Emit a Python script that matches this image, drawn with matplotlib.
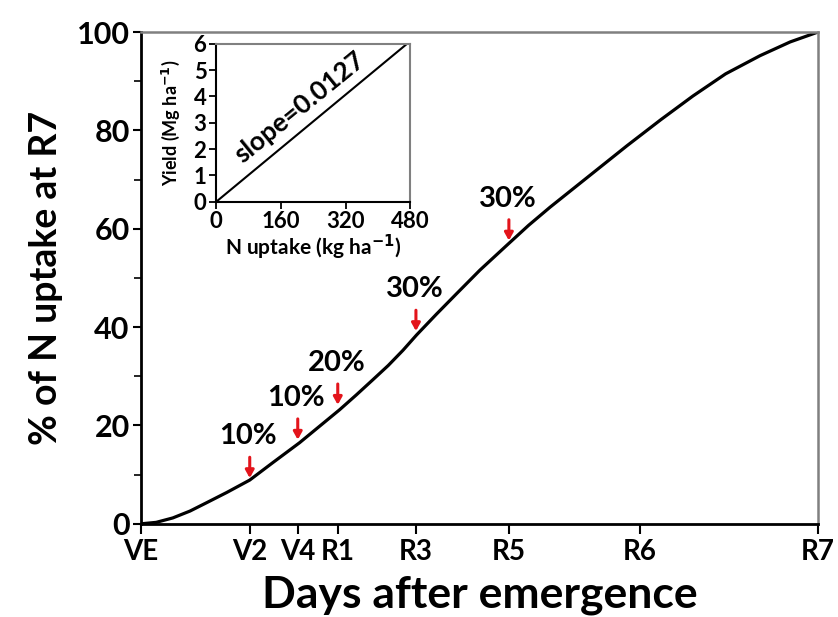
import numpy as np
import matplotlib
matplotlib.use("Agg")
import matplotlib.pyplot as plt

plt.rcParams['font.family'] = ['Lato', 'DejaVu Sans']
plt.rcParams['font.weight'] = 'bold'

# stades de croissance (jours apres emergence)
stage_labels = ["VE", "V2", "V4", "R1", "R3", "R5", "R6", "R7"]
stage_days = [0, 17.7, 25.5, 32.0, 44.7, 59.8, 81.1, 110]

# courbe d'absorption de N (% de R7)
curve_days = [0, 2.5, 5.2, 8.0, 10.7, 14.0, 17.7, 21.4, 25.8, 29.0, 32.3,
              35.0, 37.7, 40.2, 42.6, 44.8, 48.0, 51.3, 55.1, 59.6, 63.0,
              66.5, 70.0, 74.0, 79.0, 84.5, 89.7, 95.0, 100.6, 105.5, 110]
curve_pct = [0, 0.3, 1.2, 2.6, 4.3, 6.4, 8.9, 12.4, 16.5, 19.8, 23.2,
             26.2, 29.3, 32.2, 35.3, 38.4, 42.6, 46.8, 51.6, 56.8, 60.7,
             64.4, 67.9, 71.9, 76.9, 82.2, 87.0, 91.5, 95.2, 98.0, 100]

# fleches et pourcentages
arrow_days = [17.7, 25.5, 32.0, 44.7, 59.8]
arrow_pct = [9.3, 17.1, 24.2, 39.2, 57.6]
arrow_labels = ["10%", "10%", "20%", "30%", "30%"]

# encart rendement vs absorption de N
inset_n = [0, 480]
inset_yield = [0, 6.1]
slope_text = "slope=0.0127"

fig = plt.figure(figsize=(8.38, 6.17), dpi=100)
ax = fig.add_axes([0.168, 0.151, 0.808, 0.797])

ax.plot(curve_days, curve_pct, color='black', lw=2.3, solid_capstyle='round',
        solid_joinstyle='round')

for d, p, lab in zip(arrow_days, arrow_pct, arrow_labels):
    ax.annotate("", xy=(d, p), xytext=(0, 15), textcoords='offset points',
                arrowprops=dict(arrowstyle='-|>,head_length=0.45,head_width=0.25',
                                color='#e3141b', lw=2.2, shrinkA=0, shrinkB=0))
    ax.annotate(lab, xy=(d, p), xytext=(-1, 30), textcoords='offset points',
                ha='center', va='center', fontsize=21, fontweight='bold')

ax.set_xlim(0, 110)
ax.set_ylim(0, 100)
ax.set_xticks(stage_days)
ax.set_xticklabels(stage_labels)
ax.set_yticks([0, 20, 40, 60, 80, 100])
ax.set_yticks([10, 30, 50, 70, 90], minor=True)
ax.tick_params(axis='y', which='major', length=6, width=1.5, pad=2, labelsize=22)
ax.tick_params(axis='y', which='minor', length=5, width=1.2)
ax.tick_params(axis='x', length=7, width=1.5, pad=4, labelsize=20)
for lab in ax.get_xticklabels() + ax.get_yticklabels():
    lab.set_fontweight('bold')

for s in ['left', 'bottom']:
    ax.spines[s].set_linewidth(2)
    ax.spines[s].set_color('black')
for s in ['top', 'right']:
    ax.spines[s].set_linewidth(1.8)
    ax.spines[s].set_color('#808080')

ax.set_xlabel("Days after emergence", fontsize=32, fontweight='bold', labelpad=7)
ax.set_ylabel("% of N uptake at R7", fontsize=27, fontweight='bold', labelpad=10)

# encart
ins = fig.add_axes([0.258, 0.673, 0.2315, 0.256])
ins.plot(inset_n, inset_yield, color='black', lw=1.5)
ins.set_xlim(0, 480)
ins.set_ylim(0, 6)
ins.set_xticks([0, 160, 320, 480])
ins.set_yticks([0, 1, 2, 3, 4, 5, 6])
ins.tick_params(length=5, width=1.3, pad=2, labelsize=16)
for lab in ins.get_xticklabels() + ins.get_yticklabels():
    lab.set_fontweight('bold')
for s in ['left', 'bottom']:
    ins.spines[s].set_linewidth(1.5)
    ins.spines[s].set_color('black')
for s in ['top', 'right']:
    ins.spines[s].set_linewidth(1.5)
    ins.spines[s].set_color('#808080')
ins.set_xlabel("N uptake (kg ha$^{-1}$)", fontsize=15, fontweight='bold', labelpad=0)
ins.set_ylabel("Yield (Mg ha$^{-1}$)", fontsize=13, fontweight='bold', labelpad=8)
ins.text(208, 3.6, slope_text, rotation=np.degrees(np.arctan2(158, 194)),
         ha='center', va='center', fontsize=19, fontweight='bold',
         rotation_mode='anchor')

fig.savefig("out.png", dpi=100)
